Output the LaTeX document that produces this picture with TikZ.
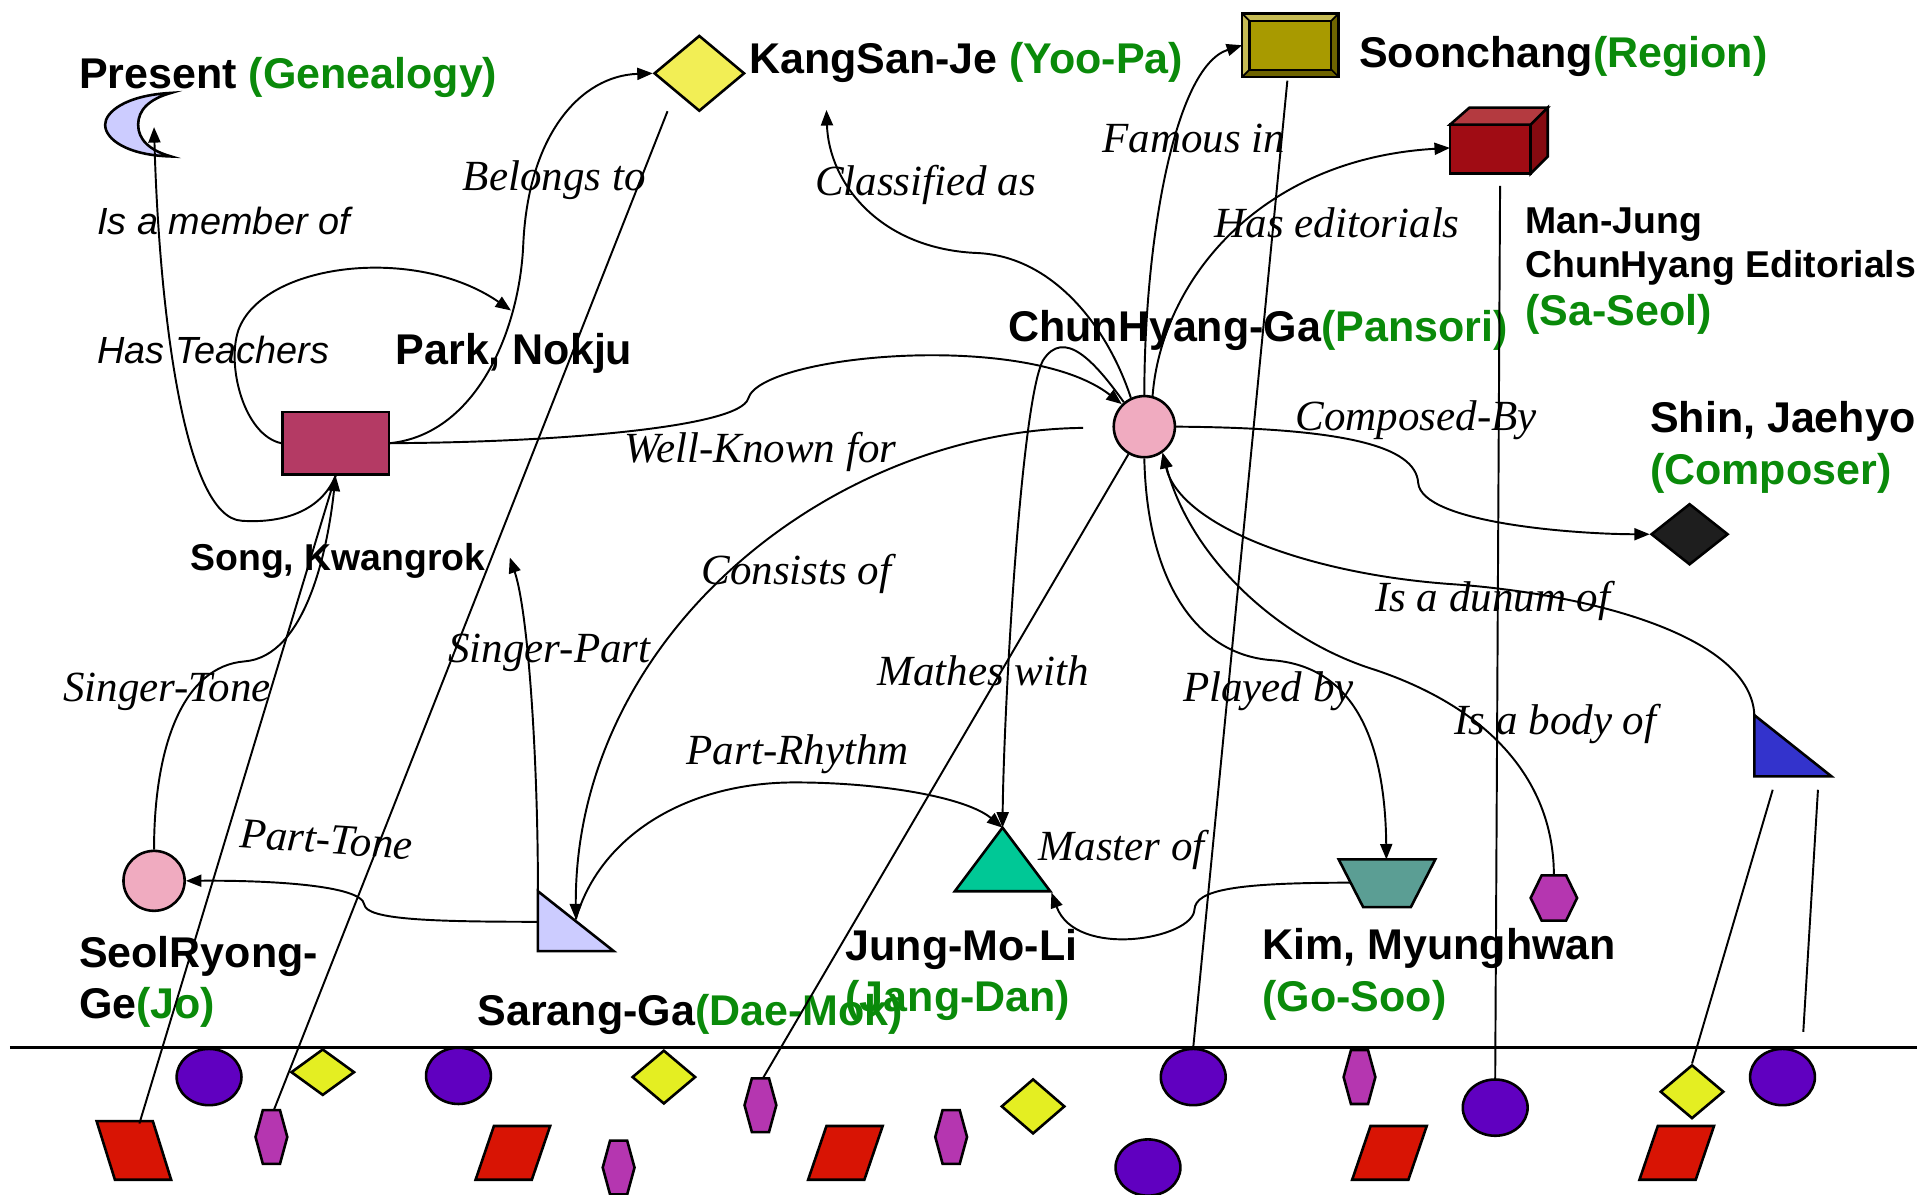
\documentclass[tikz,border=0pt]{standalone}
\usepackage{fontspec}
\setmainfont{Liberation Serif}
\setsansfont{Liberation Sans}
\usetikzlibrary{arrows.meta,shapes.geometric}

\definecolor{labgreen}{HTML}{0A8A0A}
\definecolor{moonblue}{HTML}{CCCCFF}
\definecolor{songred}{HTML}{B43A64}
\definecolor{kangyellow}{HTML}{F2EE55}
\definecolor{soonolive}{HTML}{A89A00}
\definecolor{soonlight}{HTML}{C6BB55}
\definecolor{soondark}{HTML}{6E6400}
\definecolor{cubefront}{HTML}{A00C14}
\definecolor{cubetop}{HTML}{B43A40}
\definecolor{cubeside}{HTML}{850A10}
\definecolor{chunpink}{HTML}{F0ABC0}
\definecolor{shinblack}{HTML}{1E1E1E}
\definecolor{bodyblue}{HTML}{3333CC}
\definecolor{kimteal}{HTML}{5B9E94}
\definecolor{hexmagenta}{HTML}{B536B0}
\definecolor{junggreen}{HTML}{00C896}
\definecolor{ballpurple}{HTML}{6000C0}
\definecolor{gemyellow}{HTML}{E4EE22}
\definecolor{slabred}{HTML}{D81404}

\begin{document}
\begin{tikzpicture}[x=0.01cm, y=-0.01cm,
    rline/.style={line width=0.45pt},
    rarrow/.style={line width=0.45pt, -{Triangle[length=3.6pt,width=2.8pt]}},
    outl/.style={draw=black, line width=0.6pt},
    lab/.style={font=\sffamily\bfseries\fontsize{10}{12}\selectfont, anchor=base west, inner sep=0pt},
    labsmall/.style={font=\sffamily\bfseries\fontsize{8.7}{10}\selectfont, anchor=base west, inner sep=0pt},
    rel/.style={font=\itshape\fontsize{10}{12}\selectfont, anchor=base west, inner sep=0pt},
    relsans/.style={font=\sffamily\itshape\fontsize{8.8}{10}\selectfont, anchor=base west, inner sep=0pt},
    ball/.style={outl, ellipse, fill=ballpurple, minimum width=0.53cm, minimum height=0.46cm, inner sep=0pt},
    gem/.style={outl, diamond, fill=gemyellow, minimum width=0.52cm, inner sep=0pt},
    hexa/.style={outl, fill=hexmagenta},
    slab/.style={outl, fill=slabred}]

    \fill[white] (0,0) rectangle (1568,977);
    \useasboundingbox (0,0) rectangle (1568,977);

    % main shapes
    \filldraw[outl, fill=moonblue] (140,76) .. controls (102,78) and (86,92) .. (86,102)
        .. controls (86,114) and (104,127) .. (140,128)
        .. controls (122,123) and (113,114) .. (113,102)
        .. controls (113,90) and (122,81) .. (140,76) -- cycle;
    \coordinate (moon) at (126,104);

    \node[outl, rectangle, fill=songred, minimum width=0.87cm, minimum height=0.51cm, inner sep=0pt] (song) at (274.5,362.5) {};
    \node[outl, diamond, fill=kangyellow, minimum width=0.74cm, minimum height=0.62cm, inner sep=0pt] (kang) at (572,60) {};
    \coordinate (kangT) at (676,90);
    \coordinate (kangS) at (546,91);
    \coordinate (parkT) at (418,254);

    % bevel box
    \fill[soonlight] (1016,11) -- (1095,11) -- (1089,17) -- (1022,17) -- cycle;
    \fill[soonlight] (1016,11) -- (1022,17) -- (1022,57) -- (1016,63) -- cycle;
    \fill[soondark] (1095,11) -- (1095,63) -- (1089,57) -- (1089,17) -- cycle;
    \fill[soondark] (1016,63) -- (1095,63) -- (1089,57) -- (1022,57) -- cycle;
    \fill[soonolive] (1022,17) rectangle (1089,57);
    \draw[line width=0.6pt] (1016,11) rectangle (1095,63);
    \draw[line width=0.5pt] (1022,17) rectangle (1089,57);
    \draw[line width=0.4pt] (1016,11) -- (1022,17) (1095,11) -- (1089,17) (1095,63) -- (1089,57) (1016,63) -- (1022,57);
    \coordinate (soonW) at (1016,37);
    \coordinate (soonS) at (1053,66);

    % cube
    \filldraw[outl, fill=cubefront] (1186,102) rectangle (1252,142);
    \filldraw[outl, fill=cubetop] (1186,102) -- (1202,88) -- (1266,88) -- (1252,102) -- cycle;
    \filldraw[outl, fill=cubeside] (1252,102) -- (1266,88) -- (1266,128) -- (1252,142) -- cycle;
    \coordinate (cubeW) at (1186,121);
    \coordinate (cubeS) at (1227,152);

    \node[outl, ellipse, fill=chunpink, minimum width=0.5cm, minimum height=0.5cm, inner sep=0pt] (chun) at (936,349) {};
    \coordinate (chunL) at (886,350);
    \node[outl, diamond, fill=shinblack, minimum width=0.63cm, minimum height=0.5cm, inner sep=0pt] (shin) at (1382,437) {};

    \filldraw[outl, fill=bodyblue] (1435,585) -- (1435,635) -- (1498,635) -- cycle;
    \coordinate (blueN) at (1435,585);
    \coordinate (blueS1) at (1450,646);
    \coordinate (blueS2) at (1487,646);
    \coordinate (blueEnd) at (1475,844);

    \filldraw[outl, fill=kimteal] (1095,703) -- (1174,703) -- (1154,742) -- (1115,742) -- cycle;
    \coordinate (kimN) at (1134,703);
    \coordinate (kimW) at (1105,722);

    \filldraw[hexa] (1252,734.5) -- (1261,716) -- (1281,716) -- (1290,734.5) -- (1281,753) -- (1261,753) -- cycle;
    \coordinate (bodyN) at (1271,716);

    \filldraw[outl, fill=junggreen] (820,677) -- (859,729) -- (781,729) -- cycle;
    \coordinate (jungN) at (820,677);
    \coordinate (jungE) at (860,730);

    \filldraw[outl, fill=moonblue] (440,729) -- (440,778) -- (502,778) -- cycle;
    \coordinate (sarN) at (440,729);
    \coordinate (sarW) at (440,754);
    \coordinate (sarH) at (471,752);
    \coordinate (songE) at (417,456);

    \node[outl, ellipse, fill=chunpink, minimum width=0.5cm, minimum height=0.49cm, inner sep=0pt] (seol) at (126,720.5) {};

    % ground line and the pieces below it
    \draw[line width=0.7pt] (8,857) -- (1568,857);
    \foreach \x/\y [count=\i] in {171/881, 375/880, 976/881, 939/955, 1223/906, 1458/881}
        \node[ball] (ball\i) at (\x,\y) {};
    \foreach \x/\y/\h [count=\i] in {264/877/0.38, 543/881/0.44, 845/905/0.45, 1384/893/0.44}
        \node[gem, minimum height=\h cm] (gem\i) at (\x,\y) {};
    \foreach \x/\y [count=\i] in {222/930, 506/955, 622/904, 778/930, 1112/881} {
        \filldraw[hexa] (\x-13,\y) -- (\x-7,\y-22) -- (\x+7,\y-22) -- (\x+13,\y) -- (\x+7,\y+22) -- (\x-7,\y+22) -- cycle;
        \coordinate (hex\i) at (\x+2,\y-22);
    }
    \foreach \x/\y/\s in {79/917/1, 404/921/-1, 676/921/-1, 1121/921/-1, 1356/921/-1}
        \filldraw[slab] (\x,\y) -- (\x+46,\y) -- (\x+46+15*\s,965) -- (\x+15*\s,965) -- cycle;
    \coordinate (slab1) at (114,919);

    % names
    \node[lab] (lpresent) at (64,72) {Present \textcolor{labgreen}{(Genealogy)}};
    \node[lab] (lkang) at (612,60) {KangSan-Je \textcolor{labgreen}{(Yoo-Pa)}};
    \node[lab] (lsoon) at (1111,55) {Soonchang\textcolor{labgreen}{(Region)}};
    \node[labsmall] (lman1) at (1247,191) {Man-Jung};
    \node[labsmall] (lman2) at (1247,227) {ChunHyang Editorials};
    \node[lab, text=labgreen] (lman3) at (1247,266) {(Sa-Seol)};
    \node[lab] (lchun) at (824,279) {ChunHyang-Ga\textcolor{labgreen}{(Pansori)}};
    \node[lab] (lshin1) at (1349,354) {Shin, Jaehyo};
    \node[lab, text=labgreen] (lshin2) at (1349,396) {(Composer)};
    \node[lab] (lpark) at (323,298) {Park, Nokju};
    \node[labsmall] (lsong) at (155,467) {Song, Kwangrok};
    \node[lab] (lseol1) at (64,791) {SeolRyong-};
    \node[lab] (lseol2) at (64,833) {Ge\textcolor{labgreen}{(Jo)}};
    \node[lab] (lsar) at (390,839) {Sarang-Ga\textcolor{labgreen}{(Dae-Mok)}};
    \node[lab] (ljung1) at (691,786) {Jung-Mo-Li};
    \node[lab, text=labgreen] (ljung2) at (691,827) {(Jang-Dan)};
    \node[lab] (lkim1) at (1032,785) {Kim, Myunghwan};
    \node[lab, text=labgreen] (lkim2) at (1032,827) {(Go-Soo)};

    % relation names
    \node[relsans] (tmember) at (79,192) {Is a member of};
    \node[relsans] (tteach) at (79,297) {Has Teachers};
    \node[rel] (tbelong) at (378,156) {Belongs to};
    \node[rel] (tclass) at (666,160) {Classified as};
    \node[rel] (tfamous) at (901,125) {Famous in};
    \node[rel] (tedit) at (993,194) {Has editorials};
    \node[rel] (twell) at (510,378) {Well-Known for};
    \node[rel] (tcomp) at (1059,352) {Composed-By};
    \node[rel] (tdunum) at (1124,500) {Is a dunum of};
    \node[rel] (tcons) at (573,478) {Consists of};
    \node[rel] (tspart) at (366,542) {Singer-Part};
    \node[rel] (tstone) at (51,574) {Singer-Tone};
    \node[rel] (tmath) at (717,561) {Mathes with};
    \node[rel] (tplay) at (967,574) {Played by};
    \node[rel] (tbody) at (1189,601) {Is a body of};
    \node[rel] (trhythm) at (561,625) {Part-Rhythm};
    \node[rel] (tmaster) at (849,704) {Master of};
    \node[rel, rotate=-4] (tptone) at (195,693) {Part-Tone};

    % connectors
    \draw[rarrow] (song.south) .. controls (262,420) and (228,428) .. (198,426) .. controls (150,424) and (130,250) .. (moon);
    \draw[rarrow] (song.west) .. controls (200,356) and (185,300) .. (195,270) .. controls (215,215) and (340,200) .. (parkT);
    \draw[rarrow] (song.east) .. controls (390,355) and (425,270) .. (428,200) .. controls (432,110) and (475,62) .. (kang.west);
    \draw[rarrow] (song.east) .. controls (450,362) and (605,350) .. (612,326) .. controls (622,290) and (840,270) .. (chun.135);
    \draw[rarrow] (chun.115) .. controls (905,265) and (860,210) .. (800,207) .. controls (720,204) and (678,150) .. (kangT);
    \draw[rarrow] (chun.north) .. controls (936,200) and (960,55) .. (soonW);
    \draw[rarrow] (chun.75) .. controls (950,230) and (1030,130) .. (cubeW);
    \draw[rarrow] (chun.east) .. controls (1100,350) and (1158,365) .. (1160,395) .. controls (1163,428) and (1290,437) .. (shin.west);
    \draw[rarrow] (blueN) .. controls (1432,520) and (1300,486) .. (1190,478) .. controls (1070,470) and (965,430) .. (chun.305);
    \draw[rarrow] (bodyN) .. controls (1271,640) and (1220,580) .. (1125,548) .. controls (1050,525) and (975,460) .. (chun.305);
    \draw[rarrow] (chun.south) .. controls (938,470) and (975,535) .. (1040,540) .. controls (1110,545) and (1133,610) .. (kimN);
    \draw[rarrow] (chun.130) .. controls (895,295) and (870,268) .. (853,295) .. controls (835,330) and (821,580) .. (jungN);
    \draw[rarrow] (chunL) .. controls (680,352) and (470,520) .. (sarH);
    \draw[rarrow] (sarH) .. controls (490,685) and (560,640) .. (650,640) .. controls (720,640) and (790,652) .. (jungN);
    \draw[rarrow] (sarN) .. controls (440,620) and (432,500) .. (songE);
    \draw[rarrow] (sarW) .. controls (350,754) and (300,752) .. (298,740) .. controls (296,724) and (220,720) .. (seol.east);
    \draw[rarrow] (seol.north) .. controls (126,610) and (150,545) .. (200,541) .. controls (250,537) and (268,450) .. (song.south);
    \draw[rarrow] (kimW) .. controls (1010,722) and (978,728) .. (977,744) .. controls (976,768) and (880,785) .. (jungE);

    \draw[rline] (slab1) -- (song.south);
    \draw[rline] (hex1) -- (kangS);
    \draw[rline] (hex3) -- (chun.240);
    \draw[rline] (ball3.north) -- (soonS);
    \draw[rline] (ball5.north) -- (cubeS);
    \draw[rline] (gem4.north) -- (blueS1);
    \draw[rline] (blueEnd) -- (blueS2);
\end{tikzpicture}
\end{document}
